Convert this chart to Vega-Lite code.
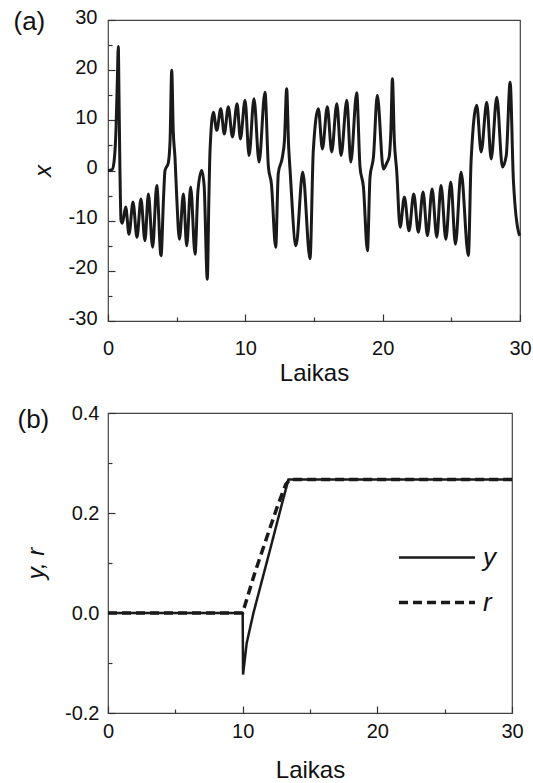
{
  "$schema": "https://vega.github.io/schema/vega-lite/v6.json",
  "autosize": {"type": "pad"},
  "padding": {"left": 12, "top": 6, "right": 2, "bottom": 0},
  "background": "white",
  "spacing": 16,
  "config": {
    "font": "Liberation Sans",
    "view": {"stroke": "#444", "strokeWidth": 1.2},
    "axis": {
      "labelFont": "Liberation Sans", "titleFont": "Liberation Sans",
      "labelFontSize": 20, "titleFontSize": 24, "titleFontWeight": "normal",
      "labelColor": "#111", "titleColor": "#111",
      "tickColor": "#333", "tickWidth": 1.2,
      "domain": false, "grid": false, "labelFlush": false, "labelOverlap": false
    }
  },
  "vconcat": [
    {
      "width": 412,
      "height": 301,
      "data": {"values": [
        {"t": 0, "x": 0}, {"t": 0.3, "x": 0.2}, {"t": 0.45, "x": 2}, {"t": 0.58, "x": 8}, {"t": 0.68, "x": 18},
        {"t": 0.75, "x": 24.7}, {"t": 0.8, "x": 15}, {"t": 0.87, "x": 0}, {"t": 0.95, "x": -10}, {"t": 1.05, "x": -10.5},
        {"t": 1.29, "x": -7.3}, {"t": 1.53, "x": -12.7}, {"t": 1.82, "x": -6.3}, {"t": 2.11, "x": -13.3}, {"t": 2.4, "x": -5.7},
        {"t": 2.69, "x": -14}, {"t": 2.94, "x": -4.7}, {"t": 3.25, "x": -15.3}, {"t": 3.55, "x": -3}, {"t": 3.86, "x": -17},
        {"t": 4.05, "x": -5}, {"t": 4.15, "x": 0}, {"t": 4.39, "x": 1.5}, {"t": 4.52, "x": 6}, {"t": 4.64, "x": 20},
        {"t": 4.75, "x": 8}, {"t": 4.88, "x": 2.5}, {"t": 5.0, "x": -5}, {"t": 5.2, "x": -13.7}, {"t": 5.49, "x": -4.7},
        {"t": 5.73, "x": -15}, {"t": 6.02, "x": -3.3}, {"t": 6.34, "x": -16.7}, {"t": 6.55, "x": -4}, {"t": 6.82, "x": 0},
        {"t": 7.0, "x": -3}, {"t": 7.23, "x": -21.7}, {"t": 7.35, "x": -5}, {"t": 7.43, "x": 4}, {"t": 7.67, "x": 11.6},
        {"t": 7.92, "x": 8}, {"t": 8.21, "x": 12.3}, {"t": 8.47, "x": 7.3}, {"t": 8.76, "x": 12.7}, {"t": 9.06, "x": 6.7},
        {"t": 9.4, "x": 13.3}, {"t": 9.64, "x": 6.3}, {"t": 9.98, "x": 14}, {"t": 10.27, "x": 3}, {"t": 10.63, "x": 14.3},
        {"t": 11.0, "x": 1.7}, {"t": 11.43, "x": 15.6}, {"t": 11.68, "x": 0.7}, {"t": 11.9, "x": -2.7}, {"t": 12.21, "x": -15.3},
        {"t": 12.4, "x": -0.6}, {"t": 12.7, "x": 2.7}, {"t": 12.85, "x": 6}, {"t": 13.01, "x": 16.3}, {"t": 13.15, "x": 5},
        {"t": 13.26, "x": 0}, {"t": 13.69, "x": -15}, {"t": 14.18, "x": -0.3}, {"t": 14.71, "x": -17.6}, {"t": 14.95, "x": 4},
        {"t": 15.32, "x": 12.3}, {"t": 15.61, "x": 4.3}, {"t": 15.97, "x": 12.7}, {"t": 16.29, "x": 3.7}, {"t": 16.66, "x": 13.3},
        {"t": 16.97, "x": 3}, {"t": 17.39, "x": 14}, {"t": 17.68, "x": 1.7}, {"t": 18.11, "x": 15.5}, {"t": 18.35, "x": 0.7},
        {"t": 18.6, "x": -3.3}, {"t": 18.89, "x": -16}, {"t": 19.08, "x": -1.3}, {"t": 19.33, "x": 2.7}, {"t": 19.61, "x": 15},
        {"t": 20.05, "x": 0.3}, {"t": 20.3, "x": 1.5}, {"t": 20.47, "x": 2.7}, {"t": 20.6, "x": 8}, {"t": 20.71, "x": 18.3},
        {"t": 20.85, "x": 6}, {"t": 21.02, "x": 0}, {"t": 21.27, "x": -11.3}, {"t": 21.58, "x": -5.3}, {"t": 21.92, "x": -12},
        {"t": 22.26, "x": -4.7}, {"t": 22.6, "x": -12.3}, {"t": 22.94, "x": -4.3}, {"t": 23.26, "x": -13}, {"t": 23.6, "x": -3.7},
        {"t": 23.94, "x": -13.3}, {"t": 24.25, "x": -3}, {"t": 24.6, "x": -13.7}, {"t": 24.96, "x": -2.3}, {"t": 25.3, "x": -14.7},
        {"t": 25.71, "x": -0.3}, {"t": 26.24, "x": -17}, {"t": 26.44, "x": 2}, {"t": 26.85, "x": 13}, {"t": 27.17, "x": 3.7},
        {"t": 27.58, "x": 13.6}, {"t": 27.9, "x": 2.3}, {"t": 28.31, "x": 14.6}, {"t": 28.72, "x": 0.7}, {"t": 29.0, "x": 3},
        {"t": 29.28, "x": 17.6}, {"t": 29.52, "x": -2}, {"t": 29.94, "x": -12.7}, {"t": 30.0, "x": -13}
      ]},
      "layer": [
        {
          "mark": {"type": "line", "interpolate": "monotone", "strokeWidth": 3, "color": "#1a1a1a"},
          "encoding": {
            "x": {"field": "t", "type": "quantitative", "scale": {"domain": [0, 30], "nice": false, "zero": false},
              "axis": {"orient": "bottom", "values": [0, 10, 20, 30], "title": "Laikas", "tickSize": -7, "labelPadding": 24, "titlePadding": 3,
                "labelExpr": "'' + datum.value"}},
            "y": {"field": "x", "type": "quantitative", "scale": {"domain": [-30, 30], "nice": false},
              "axis": {"orient": "left", "values": [-30, -20, -10, 0, 10, 20, 30], "title": "x", "titleFontStyle": "italic", "tickSize": -7, "labelPadding": 18, "titlePadding": 13,
                "labelOffset": -3, "labelExpr": "'' + datum.value"}}
          }
        },
        {
          "mark": {"type": "line", "strokeOpacity": 0},
          "encoding": {
            "x": {"field": "t", "type": "quantitative", "axis": {"orient": "bottom", "values": [5, 15, 25], "labels": false, "title": null, "tickSize": -4}},
            "y": {"field": "x", "type": "quantitative", "axis": {"orient": "left", "values": [-25, -15, -5, 5, 15, 25], "labels": false, "tickSize": -4,
              "title": "(a)", "titleAngle": 0, "titleX": -95, "titleY": 9, "titleAlign": "left", "titleBaseline": "alphabetic", "titleFontSize": 26, "titleFontStyle": "normal"}}
          }
        }
      ],
      "resolve": {"axis": {"x": "independent", "y": "independent"}}
    },
    {
      "width": 404,
      "height": 300,
      "data": {"values": [
        {"t": 0, "v": 0, "series": "y"}, {"t": 10, "v": 0, "series": "y"}, {"t": 10.03, "v": -0.123, "series": "y"},
        {"t": 10.3, "v": -0.06, "series": "y"}, {"t": 10.8, "v": 0.0, "series": "y"}, {"t": 12.0, "v": 0.123, "series": "y"},
        {"t": 13.0, "v": 0.227, "series": "y"}, {"t": 13.4, "v": 0.267, "series": "y"}, {"t": 30, "v": 0.267, "series": "y"},
        {"t": 0, "v": 0, "series": "r"}, {"t": 10, "v": 0, "series": "r"}, {"t": 10.05, "v": 0.005, "series": "r"},
        {"t": 10.9, "v": 0.08, "series": "r"}, {"t": 11.8, "v": 0.152, "series": "r"}, {"t": 12.6, "v": 0.215, "series": "r"},
        {"t": 13.2, "v": 0.257, "series": "r"}, {"t": 13.5, "v": 0.267, "series": "r"}, {"t": 30, "v": 0.267, "series": "r"}
      ]},
      "layer": [
        {
          "mark": {"type": "line", "color": "#1a1a1a"},
          "encoding": {
            "x": {"field": "t", "type": "quantitative", "scale": {"domain": [0, 30], "nice": false, "zero": false},
              "axis": {"orient": "bottom", "values": [0, 10, 20, 30], "title": "Laikas", "tickSize": -7, "labelPadding": 15, "titlePadding": 17,
                "labelExpr": "'' + datum.value"}},
            "y": {"field": "v", "type": "quantitative", "scale": {"domain": [-0.2, 0.4], "nice": false, "zero": false},
              "axis": {"orient": "left", "values": [-0.2, 0, 0.2, 0.4], "title": "y, r", "titleFontStyle": "italic", "tickSize": -7, "labelPadding": 16, "titlePadding": 16,
                "labelExpr": "(datum.value < 0 ? '-' : '') + format(abs(datum.value), '.1f')"}},
            "strokeDash": {"field": "series", "type": "nominal", "scale": {"domain": ["y", "r"], "range": [[1, 0], [9, 5]]},
              "legend": {"orient": "none", "legendX": 289, "legendY": 516, "title": null, "symbolType": "stroke", "symbolSize": 5776,
                "symbolStrokeWidth": 3, "symbolStrokeColor": "#1a1a1a", "labelFontSize": 26, "labelFontStyle": "italic", "labelFont": "Liberation Sans",
                "labelColor": "#111", "clipHeight": 43, "rowPadding": 2, "labelOffset": 6, "padding": 0}},
            "strokeWidth": {"field": "series", "type": "nominal", "scale": {"domain": ["y", "r"], "range": [2.5, 3.5]}, "legend": null}
          }
        },
        {
          "mark": {"type": "line", "strokeOpacity": 0},
          "encoding": {
            "x": {"field": "t", "type": "quantitative", "axis": {"orient": "bottom", "values": [5, 15, 25], "labels": false, "title": null, "tickSize": -4}},
            "y": {"field": "v", "type": "quantitative", "axis": {"orient": "left", "values": [-0.1, 0.1, 0.3], "labels": false, "tickSize": -4,
              "title": "(b)", "titleAngle": 0, "titleX": -91, "titleY": 14, "titleAlign": "left", "titleBaseline": "alphabetic", "titleFontSize": 26, "titleFontStyle": "normal"}}
          }
        }
      ],
      "resolve": {"axis": {"x": "independent", "y": "independent"}}
    }
  ]
}
